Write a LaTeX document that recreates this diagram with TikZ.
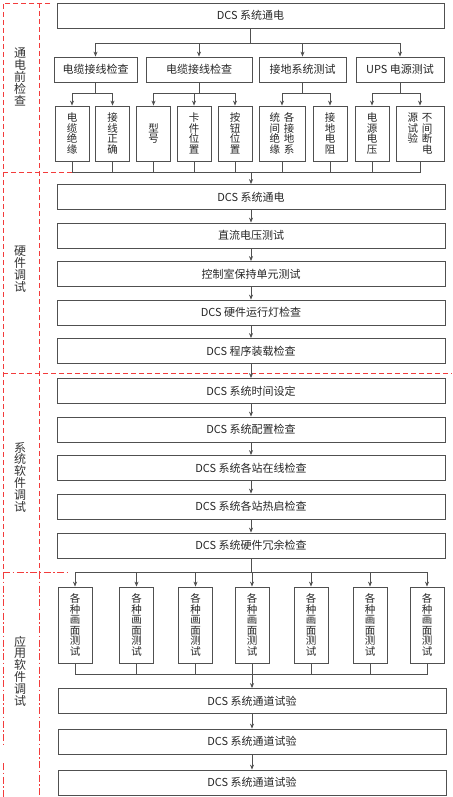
\documentclass[tikz,border=0pt]{standalone}
\usepackage{fontspec}
\setmainfont{Noto Sans CJK SC}
\usepackage{tikz}
\usetikzlibrary{arrows.meta}
\tikzset{>={Stealth[length=5pt,width=4pt]}}
\definecolor{boxline}{RGB}{80,80,80}
\definecolor{secred}{RGB}{242,60,60}
\tikzset{
  hbox/.style={draw=boxline, line width=0.8pt, inner sep=0pt, minimum height=25pt, font=\fontsize{11}{13}\selectfont, text=black!85},
  vbox/.style={draw=boxline, line width=0.8pt, inner sep=0pt, minimum width=34pt, align=center, font=\fontsize{10.5}{10.5}\selectfont, text=black!85},
  seclabel/.style={align=center, inner sep=0pt, font=\fontsize{12}{11.8}\selectfont, text=black!80},
  secline/.style={draw=secred, line width=0.8pt, dash pattern=on 5pt off 3pt},
  secdot/.style={draw=secred, line width=0.8pt, dash pattern=on 7pt off 2.5pt on 1.5pt off 2.5pt},
  link/.style={draw=boxline, line width=0.7pt}
}

\begin{document}
\begin{tikzpicture}[x=1pt, y=-1pt]
		\useasboundingbox (0,0) rectangle (452,797);
		% section frames
		\draw[secline] (50,3) -- (3,3) -- (3,572);
		\draw[secline] (39,3) -- (39,572);
		\draw[secline] (3,172) -- (75,172);
		\draw[secline] (3,373) -- (452,373);
		\draw[secdot] (3,572) -- (3,745); \draw[secdot] (3,763) -- (3,797);
		\draw[secdot] (39,572) -- (39,797);
		\draw[secdot] (3,572) -- (67,572);
		
		\node[seclabel] (l1) at (20,77) {通\\电\\前\\检\\查};
		\node[seclabel] (l2) at (20,269) {硬\\件\\调\\试};
		\node[seclabel] (l3) at (20,477) {系\\统\\软\\件\\调\\试};
		\node[seclabel] (l4) at (20,671) {应\\用\\软\\件\\调\\试};
		
		% before power on
		\node[hbox, minimum width=387pt] (p0) at (250.5,15.5) {DCS 系统通电};
		\node[hbox, minimum width=83pt] (c1) at (95.5,69.5) {电缆接线检查};
		\node[hbox, minimum width=106pt] (c2) at (199,69.5) {电缆接线检查};
		\node[hbox, minimum width=87pt] (c3) at (302.5,69.5) {接地系统测试};
		\node[hbox, minimum width=88pt] (c4) at (400,69.5) {UPS 电源测试};
		\coordinate (b0) at (250.5,43);
		\draw[link] (p0.south) -- (b0);
		\draw[link,->] (b0) -| (c1.north); \draw[link,->] (b0) -| (c2.north);
		\draw[link,->] (b0) -| (c3.north); \draw[link,->] (b0) -| (c4.north);
		
		\node[vbox, minimum height=55pt] (d1) at (72,133.5) {电\\缆\\绝\\缘};
		\node[vbox, minimum height=55pt] (d2) at (112.5,133.5) {接\\线\\正\\确};
		\node[vbox, minimum height=55pt] (d3) at (153.5,133.5) {型\\号};
		\node[vbox, minimum height=55pt] (d4) at (194,133.5) {卡\\件\\位\\置};
		\node[vbox, minimum height=55pt] (d5) at (235,133.5) {按\\钮\\位\\置};
		\node[vbox, minimum height=55pt, minimum width=46pt] (d6) at (282,133.5) {统\hspace{4pt}各\\间\hspace{4pt}接\\绝\hspace{4pt}地\\缘\hspace{4pt}系};
		\node[vbox, minimum height=55pt] (d7) at (330,133.5) {接\\地\\电\\阻};
		\node[vbox, minimum height=55pt] (d8) at (372,133.5) {电\\源\\电\\压};
		\node[vbox, minimum height=55pt, minimum width=48pt] (d9) at (420,133.5) {源\hspace{4pt}不\\试\hspace{4pt}间\\验\hspace{4pt}断\\\phantom{源}\hspace{4pt}电};
		
		\coordinate (b1) at (95.5,93); \coordinate (b2) at (199,93);
		\coordinate (b3) at (302.5,93); \coordinate (b4) at (400,93);
		\draw[link] (c1.south) -- (b1); \draw[link] (c2.south) -- (b2);
		\draw[link] (c3.south) -- (b3); \draw[link] (c4.south) -- (b4);
		\draw[link,->] (b1) -| (d1.north); \draw[link,->] (b1) -| (d2.north);
		\draw[link,->] (b2) -| (d3.north); \draw[link,->] (b2) -| (d4.north); \draw[link,->] (b2) -| (d5.north);
		\draw[link,->] (b3) -| (d6.north); \draw[link,->] (b3) -| (d7.north);
		\draw[link,->] (b4) -| (d8.north); \draw[link,->] (b4) -| (d9.north);
		
		\coordinate (m1) at (251,172);
		\draw[link] (d1.south) |- (m1); \draw[link] (d2.south) |- (m1);
		\draw[link] (d3.south) |- (m1); \draw[link] (d4.south) |- (m1);
		\draw[link] (d5.south) |- (m1); \draw[link] (d6.south) |- (m1);
		\draw[link] (d7.south) |- (m1); \draw[link] (d8.south) |- (m1);
		\draw[link] (d9.south) |- (m1);
		
		% hardware
		\node[hbox, minimum width=388pt] (h1) at (251,197) {DCS 系统通电};
		\node[hbox, minimum width=388pt] (h2) at (251,235.5) {直流电压测试};
		\node[hbox, minimum width=388pt] (h3) at (251,274) {控制室保持单元测试};
		\node[hbox, minimum width=388pt] (h4) at (251,312.5) {DCS 硬件运行灯检查};
		\node[hbox, minimum width=388pt] (h5) at (251,351) {DCS 程序装载检查};
		\draw[link,->] (m1) -- (h1.north);
		\draw[link,->] (h1) -- (h2); \draw[link,->] (h2) -- (h3);
		\draw[link,->] (h3) -- (h4); \draw[link,->] (h4) -- (h5);
		
		% system software
		\node[hbox, minimum width=388pt] (s1) at (251,391) {DCS 系统时间设定};
		\node[hbox, minimum width=388pt] (s2) at (251,429.5) {DCS 系统配置检查};
		\node[hbox, minimum width=388pt] (s3) at (251,468) {DCS 系统各站在线检查};
		\node[hbox, minimum width=388pt] (s4) at (251,506.5) {DCS 系统各站热启检查};
		\node[hbox, minimum width=388pt] (s5) at (251,545.5) {DCS 系统硬件冗余检查};
		\draw[link,->] (h5) -- (s1);
		\draw[link,->] (s1) -- (s2); \draw[link,->] (s2) -- (s3);
		\draw[link,->] (s3) -- (s4); \draw[link,->] (s4) -- (s5);
		
		% application software
		\node[vbox, minimum height=76pt] (a1) at (75,625) {各\\种\\画\\面\\测\\试};
		\node[vbox, minimum height=76pt] (a2) at (136.5,625) {各\\种\\画\\面\\测\\试};
		\node[vbox, minimum height=76pt] (a3) at (195.5,625) {各\\种\\画\\面\\测\\试};
		\node[vbox, minimum height=76pt] (a4) at (252,625) {各\\种\\画\\面\\测\\试};
		\node[vbox, minimum height=76pt] (a5) at (311,625) {各\\种\\画\\面\\测\\试};
		\node[vbox, minimum height=76pt] (a6) at (370,625) {各\\种\\画\\面\\测\\试};
		\node[vbox, minimum height=76pt] (a7) at (427,625) {各\\种\\画\\面\\测\\试};
		\coordinate (m3) at (251,572);
		\draw[link] (s5.south) -- (m3);
		\draw[link,->] (m3) -| (a1.north); \draw[link,->] (m3) -| (a2.north);
		\draw[link,->] (m3) -| (a3.north); \draw[link,->] (m3) -| (a4.north);
		\draw[link,->] (m3) -| (a5.north); \draw[link,->] (m3) -| (a6.north);
		\draw[link,->] (m3) -| (a7.north);
		
		\coordinate (m4) at (252,674);
		\draw[link] (a1.south) |- (m4); \draw[link] (a2.south) |- (m4);
		\draw[link] (a3.south) |- (m4); \draw[link] (a4.south) |- (m4);
		\draw[link] (a5.south) |- (m4); \draw[link] (a6.south) |- (m4);
		\draw[link] (a7.south) |- (m4);
		
		\node[hbox, minimum width=388pt] (t1) at (252,701) {DCS 系统通道试验};
		\node[hbox, minimum width=388pt] (t2) at (252,741.5) {DCS 系统通道试验};
		\node[hbox, minimum width=388pt] (t3) at (252,782.5) {DCS 系统通道试验};
		\draw[link,->] (m4) -- (t1.north);
		\draw[link,->] (t1) -- (t2); \draw[link,->] (t2) -- (t3);
\end{tikzpicture}
\end{document}
